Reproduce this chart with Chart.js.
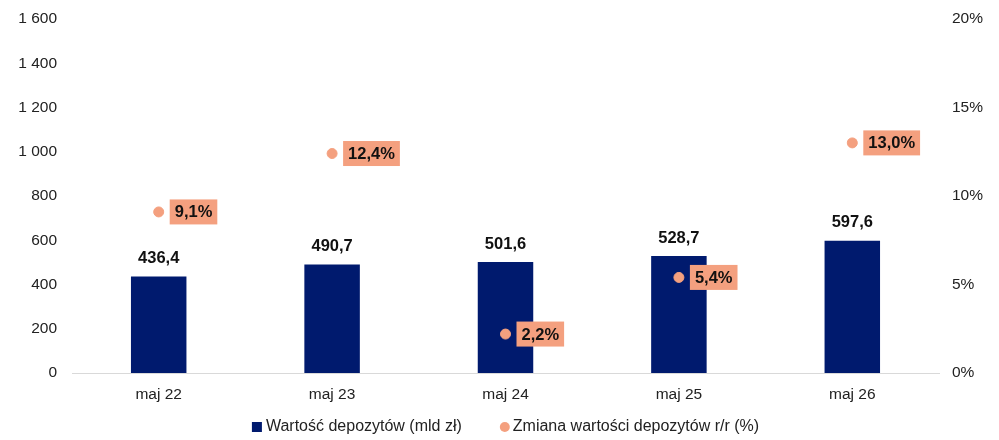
<!DOCTYPE html>
<html><head><meta charset="utf-8">
<script src="https://cdn.jsdelivr.net/npm/chart.js@4"></script>
<style>html,body{margin:0;padding:0;background:#fff}#wrap{width:999px;height:440px}</style>
</head><body><div id="wrap"><canvas id="c"></canvas></div>
<script>
const categories = ['maj 22','maj 23','maj 24','maj 25','maj 26'];
const deposits = [436.4, 490.7, 501.6, 528.7, 597.6];
const changePct = [9.1, 12.4, 2.2, 5.4, 13.0];
const leftTicks = [0,200,400,600,800,1000,1200,1400,1600];
const rightTicks = [0,5,10,15,20];
const seriesNames = ['Wartość depozytów (mld zł)', 'Zmiana wartości depozytów r/r (%)'];

const NAVY = '#001a6e';
const SALMON = '#f4a07f';
const FONT = "'Liberation Sans', Arial, sans-serif";
const TICK_FONT = { family: FONT, size: 15.5 };
const fmtPL = (v, d) => v.toFixed(d).replace('.', ',');

const labelsPlugin = {
  id: 'labels',
  afterDatasetsDraw(chart) {
    const ctx = chart.ctx;
    ctx.save();
    ctx.font = 'bold 16.5px ' + FONT;
    ctx.textBaseline = 'middle';
    chart.getDatasetMeta(0).data.forEach((el, i) => {
      ctx.fillStyle = '#111';
      ctx.textAlign = 'center';
      ctx.fillText(fmtPL(deposits[i], 1), el.x, el.y - 18);
    });
    chart.getDatasetMeta(1).data.forEach((el, i) => {
      const t = fmtPL(changePct[i], 1) + '%';
      const w = ctx.measureText(t).width + 10;
      const h = 25;
      const x0 = el.x + 11;
      ctx.fillStyle = SALMON;
      ctx.fillRect(x0, el.y - h / 2, w, h);
      ctx.fillStyle = '#111';
      ctx.textAlign = 'left';
      ctx.fillText(t, x0 + 5, el.y + 1);
    });
    ctx.restore();
  },
  afterDraw(chart) {
    // legend drawn from dataset labels/colours
    const ctx = chart.ctx;
    ctx.save();
    ctx.font = '16px ' + FONT;
    ctx.textBaseline = 'middle';
    ctx.textAlign = 'left';
    const ds = chart.data.datasets;
    const w0 = ctx.measureText(ds[0].label).width;
    const w1 = ctx.measureText(ds[1].label).width;
    const total = 10 + 4 + w0 + 38 + 10 + 3 + w1;
    const cx = (chart.chartArea.left + chart.chartArea.right) / 2;
    let x = cx - total / 2;
    const y = 427;
    ctx.fillStyle = ds[0].backgroundColor;
    ctx.fillRect(x, y - 5, 10, 10);
    x += 14;
    ctx.fillStyle = '#222';
    ctx.fillText(ds[0].label, x, y);
    x += w0 + 38;
    ctx.fillStyle = ds[1].backgroundColor;
    ctx.beginPath();
    ctx.arc(x + 5, y, 5, 0, Math.PI * 2);
    ctx.fill();
    x += 13;
    ctx.fillStyle = '#222';
    ctx.fillText(ds[1].label, x, y);
    ctx.restore();
  }
};

const zeroPad = s => { s.paddingTop = 0; s.paddingBottom = 0; };

new Chart(document.getElementById('c'), {
  data: {
    labels: categories,
    datasets: [
      { type: 'bar', label: seriesNames[0], data: deposits, backgroundColor: NAVY, yAxisID: 'y',
        barPercentage: 0.64, categoryPercentage: 0.5, order: 2 },
      { type: 'line', label: seriesNames[1], data: changePct, yAxisID: 'y1', showLine: false,
        pointRadius: 5, pointHoverRadius: 5, pointBackgroundColor: SALMON, pointBorderColor: SALMON,
        backgroundColor: SALMON, borderColor: SALMON, order: 1 }
    ]
  },
  options: {
    responsive: true, maintainAspectRatio: false, animation: false,
    layout: { padding: { top: 19, bottom: 0, left: 0, right: 0 } },
    plugins: { legend: { display: false }, tooltip: { enabled: false } },
    scales: {
      x: {
        afterFit: s => { s.height = 67; s.paddingLeft = 0; s.paddingRight = 0; },
        grid: { display: false, drawTicks: false },
        border: { display: true, color: '#d9d9d9' },
        ticks: { color: '#222', font: TICK_FONT, padding: 12 }
      },
      y: {
        position: 'left', min: 0, max: 1600,
        afterBuildTicks: s => { s.ticks = leftTicks.map(v => ({ value: v })); },
        afterFit: s => { s.width = 72; zeroPad(s); },
        grid: { display: false, drawTicks: false },
        border: { display: false },
        ticks: { color: '#222', font: TICK_FONT, padding: 15,
          callback: v => v.toString().replace(/\B(?=(\d{3})+(?!\d))/g, ' ') }
      },
      y1: {
        position: 'right', min: 0, max: 20,
        afterBuildTicks: s => { s.ticks = rightTicks.map(v => ({ value: v })); },
        afterFit: s => { s.width = 60; zeroPad(s); },
        grid: { display: false, drawTicks: false },
        border: { display: false },
        ticks: { color: '#222', font: TICK_FONT, padding: 13,
          callback: v => v + '%' }
      }
    }
  },
  plugins: [labelsPlugin]
});
</script>
</body></html>
